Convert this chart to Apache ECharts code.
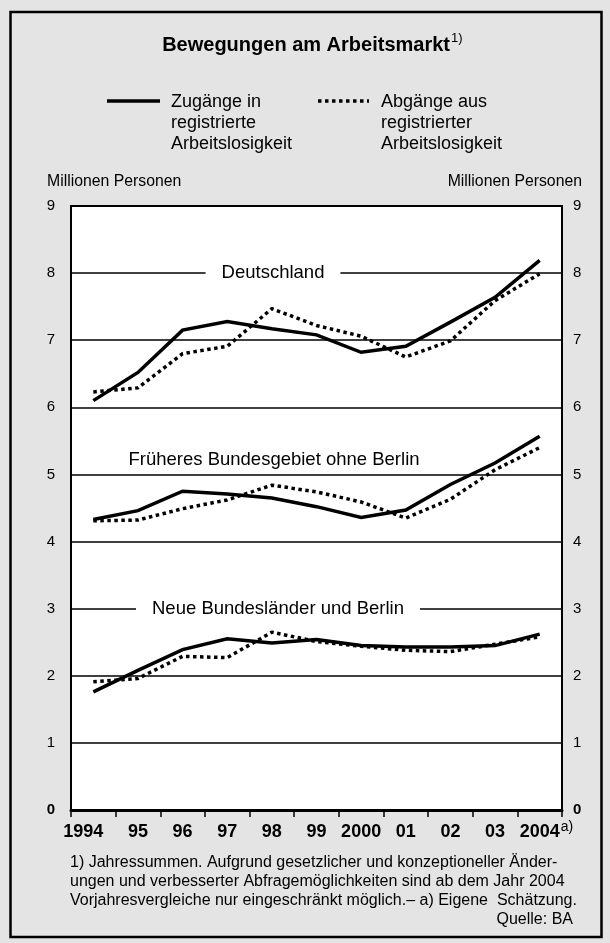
<!DOCTYPE html>
<html><head><meta charset="utf-8">
<script src="https://cdn.jsdelivr.net/npm/echarts@6/dist/echarts.min.js"></script>
<style>html,body{margin:0;padding:0;background:#e4e4e4}#c{width:610px;height:943px}</style>
</head><body><div id="c"></div>
<script>
const years = ['1994','95','96','97','98','99','2000','01','02','03','2004'];
const deZug = [6.10,6.52,7.15,7.28,7.17,7.08,6.82,6.91,7.27,7.64,8.19];
const deAbg = [6.23,6.29,6.80,6.91,7.47,7.22,7.06,6.75,6.99,7.59,7.99];
const westZug = [4.33,4.46,4.75,4.71,4.65,4.52,4.36,4.47,4.85,5.17,5.57];
const westAbg = [4.31,4.32,4.49,4.62,4.84,4.74,4.59,4.35,4.63,5.07,5.40];
const ostZug = [1.76,2.08,2.39,2.55,2.49,2.54,2.45,2.43,2.43,2.45,2.62];
const ostAbg = [1.91,1.96,2.29,2.27,2.65,2.51,2.44,2.38,2.36,2.47,2.58];
const panelLabels = ['Deutschland','Früheres Bundesgebiet ohne Berlin','Neue Bundesländer und Berlin'];
const panelLabelY = [8, 5.215, 3];
const legendNames = ['Zugänge in\nregistrierte\nArbeitslosigkeit','Abgänge aus\nregistrierter\nArbeitslosigkeit'];
const footnote = ['1) Jahressummen. Aufgrund gesetzlicher und konzeptioneller Änder-',
 'ungen und verbesserter Abfragemöglichkeiten sind ab dem Jahr 2004',
 'Vorjahresvergleiche nur eingeschränkt möglich.– a) Eigene  Schätzung.'];
const source = 'Quelle: BA';

const FONT = '"Liberation Sans", Arial, Helvetica, sans-serif';
const chart = echarts.init(document.getElementById('c'), null, {renderer:'canvas'});
const solid = {color:'#000', width:3.5, type:'solid', cap:'butt', join:'miter'};
const dotted = {color:'#000', width:3.5, type:[3.5,3.5], cap:'butt'};
function ser(data, ls){ return {type:'line', data:data, symbol:'none', lineStyle:ls, silent:true, animation:false, z:5}; }
const yLabel = {fontFamily:FONT, fontSize:15, color:'#000',
  formatter: v => v === 0 ? '{b|0}' : String(v),
  rich:{b:{fontFamily:FONT, fontSize:15, fontWeight:'bold', color:'#000'}}};
chart.setOption({
  animation:false,
  backgroundColor:'#e4e4e4',
  textStyle:{fontFamily:FONT},
  grid:{left:71, right:48, top:206, bottom:133, show:true, backgroundColor:'#fff', borderColor:'#000', borderWidth:2},
  xAxis:{type:'category', data:years, boundaryGap:true,
    axisLine:{lineStyle:{color:'#000', width:3}},
    axisTick:{show:true, length:7, interval:0, lineStyle:{color:'#000', width:1.5}},
    axisLabel:{interval:0, hideOverlap:false, fontFamily:FONT, fontSize:18, fontWeight:'bold', color:'#000', margin:13,
      formatter:(v,i)=> i === 0 ? '{f|'+v+'}' : v,
      rich:{f:{fontFamily:FONT, fontSize:18, fontWeight:'bold', color:'#000', padding:[0,20,0,0]}}},
    splitLine:{show:false}},
  yAxis:[
    {type:'value', min:0, max:9, interval:1, position:'left',
     axisLine:{show:false}, axisTick:{show:false},
     axisLabel:Object.assign({margin:16}, yLabel),
     splitLine:{lineStyle:{color:'#000', width:1.5}}},
    {type:'value', min:0, max:9, interval:1, position:'right',
     axisLine:{show:false}, axisTick:{show:false},
     axisLabel:Object.assign({margin:11}, yLabel),
     splitLine:{show:false}}
  ],
  series:[ser(deZug,solid), ser(deAbg,dotted), ser(westZug,solid), ser(westAbg,dotted), ser(ostZug,solid), ser(ostAbg,dotted)]
});

const g = [];
g.push({type:'rect', shape:{x:10.5, y:12, width:591, height:925}, style:{fill:'none', stroke:'#000', lineWidth:2.5}, z:100});
g.push({type:'text', style:{text:'Bewegungen am Arbeitsmarkt', x:450, y:45, align:'right', verticalAlign:'middle', font:'bold 20px '+FONT, fill:'#000'}});
g.push({type:'text', style:{text:'1)', x:451, y:38, align:'left', verticalAlign:'middle', font:'13px '+FONT, fill:'#000'}});
g.push({type:'line', shape:{x1:107, y1:101, x2:160, y2:101}, style:{stroke:'#000', lineWidth:3.5}});
g.push({type:'text', style:{text:legendNames[0], x:171, y:91, align:'left', verticalAlign:'top', font:'18px '+FONT, lineHeight:21.3, fill:'#000'}});
g.push({type:'line', shape:{x1:318, y1:101, x2:369, y2:101}, style:{stroke:'#000', lineWidth:3.5, lineDash:[3.5,3.5]}});
g.push({type:'text', style:{text:legendNames[1], x:381, y:91, align:'left', verticalAlign:'top', font:'18px '+FONT, lineHeight:21.3, fill:'#000'}});
g.push({type:'text', style:{text:'Millionen Personen', x:47, y:182, align:'left', verticalAlign:'middle', font:'15.8px '+FONT, fill:'#000'}});
g.push({type:'text', style:{text:'Millionen Personen', x:582, y:182, align:'right', verticalAlign:'middle', font:'15.8px '+FONT, fill:'#000'}});
const fy = [863, 882, 901];
footnote.forEach((t,i)=>g.push({type:'text', style:{text:t, x:70, y:fy[i], align:'left', verticalAlign:'middle', font:'16px '+FONT, fill:'#000'}}));
g.push({type:'text', style:{text:source, x:573, y:920, align:'right', verticalAlign:'middle', font:'16px '+FONT, fill:'#000'}});
// panel labels
const labelX = [273, 274, 278];
panelLabels.forEach((t,i)=>{
  const py = chart.convertToPixel({yAxisIndex:0}, panelLabelY[i]);
  const onLine = (i !== 1);
  g.push({type:'text', z:20, style:{text:t, x:labelX[i], y:py, align:'center', verticalAlign:'middle', font:'18.5px '+FONT, fill:'#000',
    backgroundColor: onLine ? '#fff' : 'transparent', padding: onLine ? [3,16,3,16] : 0}});
});
// a) after 2004
const px2004 = chart.convertToPixel({xAxisIndex:0}, '2004');
const pyZero = chart.convertToPixel({yAxisIndex:0}, 0);
g.push({type:'text', style:{text:'a)', x:px2004+21, y:pyZero+17, align:'left', verticalAlign:'middle', font:'14px '+FONT, fill:'#000'}});
chart.setOption({graphic:g});
</script></body></html>
